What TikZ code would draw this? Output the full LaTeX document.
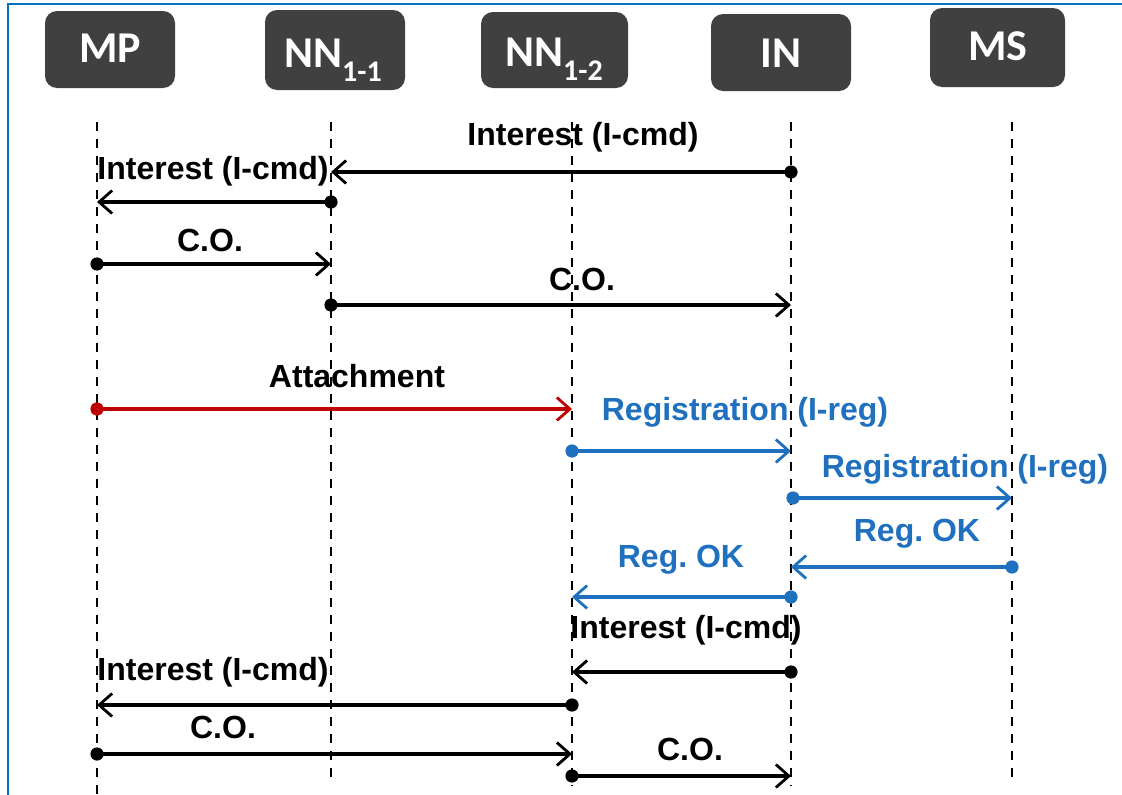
\documentclass[tikz,border=0pt]{standalone}
\usepackage{fontspec}
\setmainfont{Liberation Sans}
\newfontfamily\boxfont{Carlito}
\usetikzlibrary{arrows.meta}
\frenchspacing
\definecolor{framecol}{HTML}{0070C0}
\definecolor{boxcol}{HTML}{404040}
\definecolor{regblue}{HTML}{1F70BF}
\definecolor{attred}{HTML}{C00000}
\tikzset{
  entity/.style={fill=boxcol, draw=none, rounded corners=12pt, inner sep=0pt},
  entitytext/.style={text=white, font=\boxfont\bfseries\fontsize{44}{44}\selectfont, inner sep=0pt},
  lifeline/.style={draw=black, line width=2.4pt, dash pattern=on 9pt off 8pt},
  msg/.style={line width=3.1pt, -{Straight Barb[length=13pt,width=23pt,line width=2.8pt]}},
  msglabel/.style={font=\bfseries\fontsize{32}{32}\selectfont, inner sep=0pt},
}
\newcommand{\msgdot}[2]{\fill[#1] (#2) circle (6.6pt);}
\newcommand{\nnsub}[1]{\smash{\raisebox{-14pt}{\fontsize{30}{30}\selectfont #1}}}
\begin{document}
\begin{tikzpicture}[x=1pt,y=-1pt]
\useasboundingbox (0,0) rectangle (1122,795);
\fill[white] (0,0) rectangle (1122,795);
% frame
\draw[framecol, line width=2.2pt] (8,795) -- (8,4) -- (1122,4);

% entities
\node[entity, minimum width=130pt, minimum height=77pt] (mp)  at (110,49.5) {};
\node[entity, minimum width=140pt, minimum height=80pt] (nn1) at (335,50) {};
\node[entity, minimum width=147pt, minimum height=76pt] (nn2) at (554.5,50) {};
\node[entity, minimum width=140pt, minimum height=77pt] (in)  at (781,52.5) {};
\node[entity, minimum width=135pt, minimum height=79pt] (ms)  at (997.5,47.5) {};
\node[entitytext] (mpt)  at (110,48) {MP};
\node[entitytext] (nn1t) at (333,53) {NN\nnsub{1-1}};
\node[entitytext] (nn2t) at (554,52) {NN\nnsub{1-2}};
\node[entitytext] (int)  at (781,53) {IN};
\node[entitytext] (mst)  at (998,46) {MS};

% lifelines
\coordinate (mpT) at (97,122);   \coordinate (mpB) at (97,795);
\coordinate (n1T) at (331,122);  \coordinate (n1B) at (331,780);
\coordinate (n2T) at (572,122);  \coordinate (n2B) at (572,786);
\coordinate (inT) at (791,122);  \coordinate (inB) at (791,786);
\coordinate (msT) at (1012,122); \coordinate (msB) at (1012,780);
\foreach \a/\b in {mpT/mpB, n1T/n1B, n2T/n2B, inT/inB, msT/msB}
  \draw[lifeline] (\a) -- (\b);

% message end points on the lifelines
\foreach \y [count=\i] in {172,202,264,305,409,451,498,567,597,672,705,754,776} {
  \coordinate (mp\i) at (97,\y);
  \coordinate (na\i) at (331,\y);
  \coordinate (nb\i) at (572,\y);
  \coordinate (in\i) at (791,\y);
  \coordinate (ms\i) at (1012,\y);
}

% messages
\draw[msg] (in1) -- (na1);   \msgdot{black}{in1}
\draw[msg] (na2) -- (mp2);   \msgdot{black}{na2}
\draw[msg] (mp3) -- (na3);   \msgdot{black}{mp3}
\draw[msg] (na4) -- (in4);   \msgdot{black}{na4}
\draw[msg, attred] (mp5) -- (nb5);   \msgdot{attred}{mp5}
\draw[msg, regblue] (nb6) -- (in6);  \msgdot{regblue}{nb6}
\draw[msg, regblue] ([xshift=2pt]in7) -- (ms7);  \msgdot{regblue}{[xshift=2pt]in7}
\draw[msg, regblue] (ms8) -- (in8);  \msgdot{regblue}{ms8}
\draw[msg, regblue] (in9) -- (nb9);  \msgdot{regblue}{in9}
\draw[msg] (in10) -- (nb10); \msgdot{black}{in10}
\draw[msg] (nb11) -- (mp11); \msgdot{black}{nb11}
\draw[msg] (mp12) -- (nb12); \msgdot{black}{mp12}
\draw[msg] (nb13) -- (in13); \msgdot{black}{nb13}

% message labels
\node[msglabel] (l1)  at (583,137) {Interest (I-cmd)};
\node[msglabel] (l2)  at (213,171) {Interest (I-cmd)};
\node[msglabel] (l3)  at (210,240) {C.O.};
\node[msglabel] (l4)  at (582,279) {C.O.};
\node[msglabel] (l5)  at (357,376) {Attachment};
\node[msglabel, text=regblue] (l6) at (745,412) {Registration (I-reg)};
\node[msglabel, text=regblue] (l7) at (965,469) {Registration (I-reg)};
\node[msglabel, text=regblue] (l8) at (917,534) {Reg. OK};
\node[msglabel, text=regblue] (l9) at (681,560) {Reg. OK};
\node[msglabel] (l10) at (686,630) {Interest (I-cmd)};
\node[msglabel] (l11) at (213,672) {Interest (I-cmd)};
\node[msglabel] (l12) at (223,727) {C.O.};
\node[msglabel] (l13) at (690,749) {C.O.};
\end{tikzpicture}
\end{document}
